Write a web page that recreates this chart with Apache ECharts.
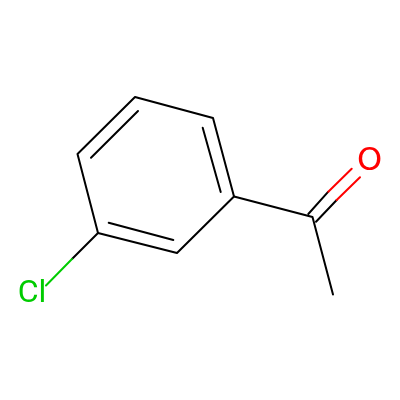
<!DOCTYPE html>
<html><head><meta charset="utf-8">
<style>html,body{margin:0;padding:0;background:#fff}#c{width:400px;height:400px}</style>
<script src="https://cdn.jsdelivr.net/npm/echarts@6/dist/echarts.min.js"></script>
</head><body><div id="c"></div>
<script>
const BLACK = '#000000', GREEN = '#00CC00', RED = '#FF0000';
// ring and chain bonds: points
const ringBonds = [
  [[98, 233], [77.5, 154], [135, 97], [213, 118], [234, 196.5], [177, 253], [98, 233]],
  [[234, 196.5], [312.5, 217], [333, 294.5]]
];
const innerBonds = [
  [[91, 157.7], [138, 111]],
  [[108.7, 222.7], [173.3, 240]],
  [[202.7, 127.7], [220.7, 192]]
];
const blackCOParts = [
  [[308.3, 214], [328.3, 191.7]],
  [[316, 221.7], [336.7, 200]]
];
const redCOParts = [
  [[328.3, 191.7], [351.7, 168.7]],
  [[336.7, 200], [360, 177.3]]
];
const blackClPart = [[98, 233], [72, 259]];
const greenClPart = [[72, 259], [46, 285.5]];
const atomLabels = [
  { name: 'Cl', value: [32, 293.5], color: GREEN, size: 32, font: 'Roboto' },
  { name: 'O', value: [369.5, 162], color: RED, size: 32, font: 'DejaVu Sans' }
];
function bond(points, color) {
  return { type: 'line', data: points, showSymbol: false, silent: true, animation: false,
    clip: false, lineStyle: { color, width: 2, cap: 'round', join: 'round' } };
}
const series = [];
ringBonds.concat(innerBonds, blackCOParts, [blackClPart]).forEach(p => series.push(bond(p, BLACK)));
redCOParts.forEach(p => series.push(bond(p, RED)));
series.push(bond(greenClPart, GREEN));
series.push({
  type: 'scatter', symbolSize: 0, silent: true, animation: false,
  itemStyle: { opacity: 1 },
  data: atomLabels.map(a => ({
    name: a.name, value: a.value,
    label: { show: true, position: 'inside', formatter: a.name, color: a.color, opacity: 1,
      fontFamily: a.font, fontSize: a.size, align: 'center', verticalAlign: 'middle' }
  }))
});
const chart = echarts.init(document.getElementById('c'), null, { renderer: 'canvas' });
chart.setOption({
  backgroundColor: '#ffffff', animation: false,
  grid: { left: 0, right: 0, top: 0, bottom: 0 },
  xAxis: { type: 'value', min: 0, max: 400, show: false },
  yAxis: { type: 'value', min: 0, max: 400, inverse: true, show: false },
  series
});
</script></body></html>
